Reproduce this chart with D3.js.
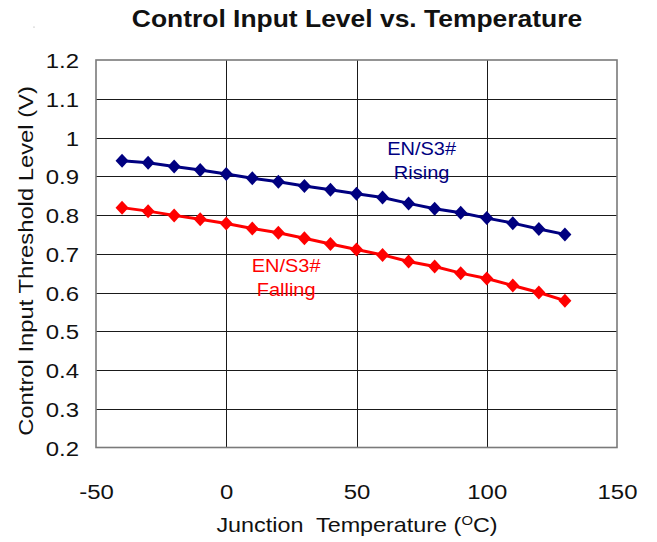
<!DOCTYPE html>
<html>
<head>
<meta charset="utf-8">
<script src="https://cdn.jsdelivr.net/npm/d3@7"></script>
<style>
  html, body { margin: 0; padding: 0; background: #fff; }
  svg { display: block; }
  text { font-family: "Liberation Sans", Arial, sans-serif; white-space: pre; }
</style>
</head>
<body>
<script>
const temperatures = [-40, -30, -20, -10, 0, 10, 20, 30, 40, 50, 60, 70, 80, 90, 100, 110, 120, 130];
const risingValues = [0.940, 0.935, 0.925, 0.916, 0.906, 0.895, 0.886, 0.875, 0.865, 0.855, 0.845, 0.830, 0.816, 0.806, 0.792, 0.779, 0.764, 0.750];
const fallingValues = [0.819, 0.810, 0.799, 0.789, 0.778, 0.765, 0.754, 0.740, 0.725, 0.711, 0.697, 0.680, 0.667, 0.650, 0.636, 0.618, 0.600, 0.579];
const xTicks = [-50, 0, 50, 100, 150];
const xTickLabels = ["-50", "0", "50", "100", "150"];
const yTicks = [0.2, 0.3, 0.4, 0.5, 0.6, 0.7, 0.8, 0.9, 1.0, 1.1, 1.2];
const yTickLabels = ["0.2", "0.3", "0.4", "0.5", "0.6", "0.7", "0.8", "0.9", "1", "1.1", "1.2"];
const seriesNames = ["EN/S3#|Rising", "EN/S3#|Falling"];

const W = 657, H = 542;
const m = { left: 96, top: 60, right: 40, bottom: 94.5 };
const iw = W - m.left - m.right, ih = H - m.top - m.bottom;
const SX = 1.14; // horizontal stretch of the original lettering

const svg = d3.select("body").append("svg").attr("width", W).attr("height", H);

const x = d3.scaleLinear().domain([-50, 150]).range([m.left, m.left + iw]);
const y = d3.scaleLinear().domain([0.2, 1.2]).range([m.top + ih, m.top]);

const stretch = (ax, ay, s) => `translate(${ax},${ay}) scale(${s},1) translate(${-ax},${-ay})`;

// gridlines
svg.append("g").selectAll("line").data(yTicks.slice(1, -1)).join("line")
  .attr("x1", m.left).attr("x2", m.left + iw)
  .attr("y1", d => Math.round(y(d)) + 0.5).attr("y2", d => Math.round(y(d)) + 0.5)
  .attr("stroke", "#1a1a1a").attr("stroke-width", 1);
svg.append("g").selectAll("line").data(xTicks.slice(1, -1)).join("line")
  .attr("y1", m.top).attr("y2", m.top + ih)
  .attr("x1", d => Math.round(x(d)) + 0.5).attr("x2", d => Math.round(x(d)) + 0.5)
  .attr("stroke", "#1a1a1a").attr("stroke-width", 1);

// frame
svg.append("rect").attr("x", m.left).attr("y", m.top).attr("width", iw).attr("height", ih)
  .attr("fill", "none").attr("stroke", "#7a7a7a").attr("stroke-width", 1.6);

// axes labels via d3 axes
const yAxis = svg.append("g").attr("transform", `translate(${m.left - 17},0)`)
  .call(d3.axisLeft(y).tickValues(yTicks).tickFormat((d, i) => yTickLabels[i]).tickSize(0).tickPadding(0));
yAxis.select(".domain").remove();
yAxis.selectAll("text").attr("font-size", 21).attr("fill", "#111").attr("dy", "0.36em")
  .attr("font-family", "Liberation Sans, Arial, sans-serif")
  .attr("transform", `scale(${SX},1)`);

const xAxis = svg.append("g").attr("transform", `translate(0,${m.top + ih + 37})`)
  .call(d3.axisBottom(x).tickValues(xTicks).tickFormat((d, i) => xTickLabels[i]).tickSize(0).tickPadding(0));
xAxis.select(".domain").remove();
xAxis.selectAll("text").attr("font-size", 21).attr("fill", "#111").attr("dy", "0.71em")
  .attr("font-family", "Liberation Sans, Arial, sans-serif")
  .attr("transform", `scale(${SX},1)`);

// series
const series = [
  { values: risingValues, color: "#000080" },
  { values: fallingValues, color: "#ff0000" }
];
const line = d3.line().x((d, i) => x(temperatures[i])).y(d => y(d));
const diamond = (cx, cy) => `M${cx},${cy - 7}L${cx + 6.5},${cy}L${cx},${cy + 7}L${cx - 6.5},${cy}Z`;
series.forEach(s => {
  svg.append("path").attr("d", line(s.values)).attr("fill", "none")
    .attr("stroke", s.color).attr("stroke-width", 3);
  svg.append("g").selectAll("path").data(s.values).join("path")
    .attr("d", (d, i) => diamond(x(temperatures[i]), y(d))).attr("fill", s.color);
});

// series labels
const labelPos = [
  { cx: x(75), cy: 155, color: "#000080" },
  { cx: x(23), cy: 272, color: "#ff0000" }
];
seriesNames.forEach((n, i) => {
  const parts = n.split("|");
  const t = svg.append("text").attr("text-anchor", "middle").attr("font-size", 18.5)
    .attr("fill", labelPos[i].color)
    .attr("transform", stretch(labelPos[i].cx, labelPos[i].cy, 1.08));
  parts.forEach((p, k) => {
    t.append("tspan").attr("x", labelPos[i].cx).attr("y", labelPos[i].cy + k * 24).text(p);
  });
});

// title
svg.append("text").attr("x", 357).attr("y", 27).attr("text-anchor", "middle")
  .attr("font-size", 23).attr("font-weight", "bold").attr("fill", "#111")
  .attr("transform", stretch(357, 27, 1.15))
  .text("Control Input Level vs. Temperature");

// x axis title
const xt = svg.append("text").attr("x", 357).attr("y", 532).attr("text-anchor", "middle")
  .attr("font-size", 20.5).attr("fill", "#111")
  .attr("transform", stretch(357, 532, 1.14));
xt.append("tspan").text("Junction  Temperature (");
xt.append("tspan").attr("font-size", 13).attr("dy", -7).text("O");
xt.append("tspan").attr("dy", 7).text("C)");

// y axis title
svg.append("text").attr("transform", `translate(33,261) rotate(-90) scale(1.16,1)`).attr("text-anchor", "middle")
  .attr("font-size", 20.5).attr("fill", "#111")
  .text("Control Input Threshold Level (V)");

// small dot top-left
svg.append("circle").attr("cx", 34).attr("cy", 27).attr("r", 0.6).attr("fill", "#999");
</script>
</body>
</html>
